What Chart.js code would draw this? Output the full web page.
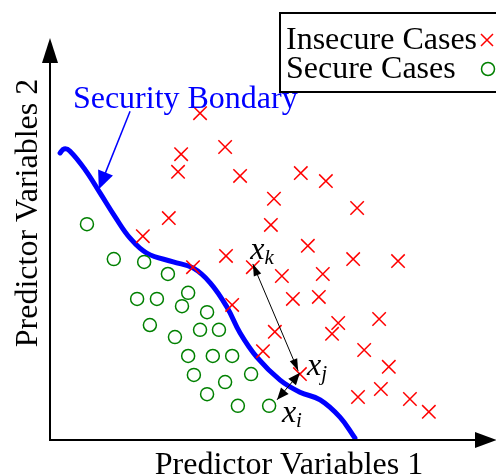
<!DOCTYPE html>
<html>
<head>
<meta charset="utf-8">
<script src="https://cdn.jsdelivr.net/npm/chart.js@4"></script>
<style>
  body { margin: 0; background: #fff; }
  #wrap { width: 496px; height: 475px; }
</style>
</head>
<body>
<div id="wrap"><canvas id="grafica" width="496" height="475"></canvas></div>
<script>
// values (arbitrary units, 0..10 on both axes)
const insecureX = [3.41, 2.98, 3.98, 2.91, 4.32, 5.70, 6.27, 5.09, 6.98, 2.70, 5.02, 2.11, 5.86, 4.00, 6.89, 7.91, 3.25, 4.61,
                   5.27, 6.20, 5.52, 6.11, 4.14, 6.55, 7.48, 5.11, 6.41, 7.14, 4.84, 7.70, 5.68, 7.00, 7.52, 8.18, 8.61];
const insecureY = [8.13, 7.11, 7.29, 6.67, 6.57, 6.64, 6.44, 6.00, 5.77, 5.52, 5.35, 5.07, 4.83, 4.58, 4.50, 4.45, 4.30, 4.30,
                   4.08, 4.13, 3.51, 3.56, 3.36, 2.91, 3.01, 2.69, 2.64, 2.24, 2.21, 1.82, 1.64, 1.07, 1.27, 1.02, 0.70];

const secureX = [0.84, 1.45, 2.14, 2.68, 3.14, 1.98, 2.43, 3.00, 3.57, 2.27, 3.41, 3.84, 2.84, 3.14, 3.70,
                 4.14, 3.27, 4.57, 3.98, 3.57, 4.27, 4.98];
const secureY = [5.37, 4.50, 4.43, 4.13, 3.66, 3.51, 3.51, 3.33, 3.18, 2.86, 2.74, 2.74, 2.56, 2.09, 2.09,
                 2.09, 1.62, 1.64, 1.44, 1.14, 0.85, 0.85];

const boundaryX = [0.23, 0.32, 0.45, 0.80, 1.14, 1.48, 1.82, 2.20, 2.80, 3.25, 3.64, 4.02, 4.32, 4.70, 5.23, 5.68, 6.14, 6.59, 6.93];
const boundaryY = [7.14, 7.24, 7.19, 6.72, 6.14, 5.55, 5.02, 4.65, 4.43, 4.28, 3.91, 3.31, 2.66, 2.06, 1.49, 1.19, 1.00, 0.57, 0.05];

const seriesNames = ['Insecure Cases', 'Secure Cases'];
const boundaryName = 'Security Bondary';
const xTitle = 'Predictor Variables 1';
const yTitle = 'Predictor Variables 2';

const toPts = (xs, ys) => xs.map((x, i) => ({x: x, y: ys[i]}));

const serif = '"Liberation Serif", "DejaVu Serif", serif';

function arrowHead(ctx, x1, y1, x2, y2, len, half) {
    // filled head with tip at (x2,y2)
    const a = Math.atan2(y2 - y1, x2 - x1);
    ctx.beginPath();
    ctx.moveTo(x2, y2);
    ctx.lineTo(x2 - len * Math.cos(a) + half * Math.sin(a), y2 - len * Math.sin(a) - half * Math.cos(a));
    ctx.lineTo(x2 - len * Math.cos(a) - half * Math.sin(a), y2 - len * Math.sin(a) + half * Math.cos(a));
    ctx.closePath();
    ctx.fill();
}

const drawing = {
    id: 'drawing',
    afterDatasetsDraw(chart) {
        const ctx = chart.ctx;
        const sx = chart.scales.x, sy = chart.scales.y;
        const px = v => sx.getPixelForValue(v);
        const py = v => sy.getPixelForValue(v);
        const area = chart.chartArea;
        ctx.save();

        // axes with arrows
        ctx.strokeStyle = '#000';
        ctx.fillStyle = '#000';
        ctx.lineWidth = 2;
        ctx.beginPath();
        ctx.moveTo(area.left, 60);
        ctx.lineTo(area.left, area.bottom);
        ctx.lineTo(480, area.bottom);
        ctx.stroke();
        arrowHead(ctx, area.left, area.bottom, area.left, 38, 25, 8);
        arrowHead(ctx, area.left, area.bottom, 497, area.bottom, 22, 8);

        // axis titles
        ctx.font = '32px ' + serif;
        ctx.textAlign = 'center';
        ctx.textBaseline = 'alphabetic';
        ctx.fillText(xTitle, 289, 474);
        ctx.save();
        ctx.translate(37, 213);
        ctx.rotate(-Math.PI / 2);
        ctx.fillText(yTitle, 0, 0);
        ctx.restore();

        // boundary label + arrow
        ctx.fillStyle = '#0000ff';
        ctx.strokeStyle = '#0000ff';
        ctx.textAlign = 'left';
        ctx.font = '32px ' + serif;
        ctx.fillText(boundaryName, px(0.52), py(8.26));
        ctx.lineWidth = 1.5;
        ctx.beginPath();
        ctx.moveTo(px(1.82), py(8.18));
        ctx.lineTo(px(1.25), py(6.62));
        ctx.stroke();
        arrowHead(ctx, px(1.82), py(8.18), px(1.11), py(6.24), 18, 8);

        // distance arrows
        ctx.fillStyle = '#000';
        ctx.strokeStyle = '#000';
        ctx.lineWidth = 1;
        const k1 = [px(4.61), py(4.38)], k2 = [px(5.64), py(1.72)];
        ctx.beginPath();
        ctx.moveTo(k1[0], k1[1]);
        ctx.lineTo(k2[0], k2[1]);
        ctx.stroke();
        arrowHead(ctx, k2[0], k2[1], k1[0], k1[1], 12, 4);
        arrowHead(ctx, k1[0], k1[1], k2[0], k2[1], 12, 4);
        const j1 = [px(5.68), py(1.67)], j2 = [px(5.16), py(1.00)];
        ctx.beginPath();
        ctx.moveTo(j1[0], j1[1]);
        ctx.lineTo(j2[0], j2[1]);
        ctx.stroke();
        arrowHead(ctx, j2[0], j2[1], j1[0], j1[1], 12, 5);
        arrowHead(ctx, j1[0], j1[1], j2[0], j2[1], 12, 5);

        // point labels
        const lab = (main, sub, x, y) => {
            ctx.font = 'italic 32px ' + serif;
            ctx.fillText(main, x, y);
            const w = ctx.measureText(main).width;
            ctx.font = 'italic 21px ' + serif;
            ctx.fillText(sub, x + w, y + 5);
        };
        lab('x', 'k', px(4.55), py(4.50));
        lab('x', 'j', px(5.84), py(1.62));
        lab('x', 'i', px(5.27), py(0.45));

        // legend box
        ctx.fillStyle = '#fff';
        ctx.fillRect(280, 13, 230, 79);
        ctx.strokeStyle = '#000';
        ctx.lineWidth = 2;
        ctx.strokeRect(280, 13, 230, 79);
        ctx.fillStyle = '#000';
        ctx.font = '32px ' + serif;
        ctx.fillText(seriesNames[0], 286, 49);
        ctx.fillText(seriesNames[1], 286, 78);
        ctx.strokeStyle = '#ff0000';
        ctx.lineWidth = 1.5;
        ctx.beginPath();
        ctx.moveTo(481, 34); ctx.lineTo(493, 46);
        ctx.moveTo(493, 34); ctx.lineTo(481, 46);
        ctx.stroke();
        ctx.strokeStyle = '#008000';
        ctx.beginPath();
        ctx.arc(488, 69, 6.5, 0, Math.PI * 2);
        ctx.stroke();

        ctx.restore();
    }
};

new Chart(document.getElementById('grafica'), {
    type: 'scatter',
    data: {
        datasets: [
            {
                label: seriesNames[0],
                data: toPts(insecureX, insecureY),
                pointStyle: 'crossRot',
                pointRadius: 9.5,
                borderColor: '#ff0000',
                borderWidth: 1.5
            },
            {
                label: seriesNames[1],
                data: toPts(secureX, secureY),
                pointStyle: 'circle',
                pointRadius: 6.5,
                borderColor: '#008000',
                backgroundColor: 'rgba(0,0,0,0)',
                borderWidth: 1.5
            },
            {
                label: boundaryName,
                data: toPts(boundaryX, boundaryY),
                showLine: true,
                tension: 0.4,
                pointRadius: 0,
                borderColor: '#0000ff',
                borderWidth: 5,
                borderCapStyle: 'round'
            }
        ]
    },
    options: {
        responsive: false,
        devicePixelRatio: 1,
        animation: false,
        layout: {autoPadding: false, padding: {left: 50, right: 6, top: 38, bottom: 35}},
        plugins: {legend: {display: false}, tooltip: {enabled: false}},
        scales: {
            x: {display: false, min: 0, max: 10},
            y: {display: false, min: 0, max: 10}
        }
    },
    plugins: [drawing]
});
</script>
</body>
</html>
